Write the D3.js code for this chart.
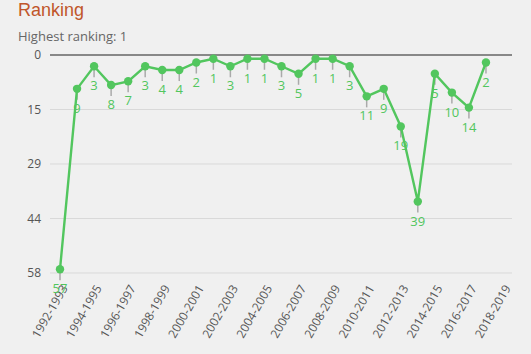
<!DOCTYPE html>
<html>
<head>
<meta charset="utf-8">
<script src="https://cdn.jsdelivr.net/npm/d3@7"></script>
<style>
  body { margin: 0; background: #f0f0f0; }
  svg { display: block; font-family: "Open Sans", "Noto Sans", sans-serif; }
</style>
</head>
<body>
<div id="chart"></div>
<script>
const seasons = [
  "1992-1993", "1993-1994", "1994-1995", "1995-1996", "1996-1997", "1997-1998",
  "1998-1999", "1999-2000", "2000-2001", "2001-2002", "2002-2003", "2003-2004",
  "2004-2005", "2005-2006", "2006-2007", "2007-2008", "2008-2009", "2009-2010",
  "2010-2011", "2011-2012", "2012-2013", "2013-2014", "2014-2015", "2015-2016",
  "2016-2017", "2017-2018", "2018-2019"
]
const rankings = [57, 9, 3, 8, 7, 3, 4, 4, 2, 1, 3, 1, 1, 3, 5, 1, 1, 3, 11, 9, 19, 39, 5, 10, 14, 2]
const yTicks = [0, 14.5, 29, 43.5, 58]
const xTickLabels = seasons.filter((d, i) => i % 2 === 0)

const width = 531, height = 354
const green = "#52c65e"

const svg = d3.select("#chart")
  .append("svg")
  .attr("width", width)
  .attr("height", height)

svg.append("rect").attr("width", width).attr("height", height).attr("fill", "#f0f0f0")

svg.append("text")
  .attr("x", 18).attr("y", 16)
  .attr("fill", "#c0562a")
  .attr("font-size", 18)
  .attr("font-family", "Liberation Sans, Arial, sans-serif")
  .text("Ranking")

svg.append("text")
  .attr("x", 18).attr("y", 41)
  .attr("fill", "#666")
  .attr("font-size", 13)
  .text("Highest ranking: 1")

const x = d3.scalePoint().domain(seasons).range([60, 503])
const y = d3.scaleLinear().domain([0, 58]).range([55, 273])

// grid
svg.append("g")
  .selectAll("line")
  .data(yTicks)
  .join("line")
  .attr("x1", 50).attr("x2", 512)
  .attr("y1", d => y(d)).attr("y2", d => y(d))
  .attr("stroke", d => d === 0 ? "#666" : "#d9d9d9")
  .attr("stroke-width", d => d === 0 ? 1.5 : 1)

// y axis labels
const yAxis = svg.append("g")
  .attr("transform", "translate(44,0)")
  .call(d3.axisLeft(y).tickValues(yTicks).tickFormat(d => Math.round(d)).tickSize(0))
yAxis.select(".domain").remove()
yAxis.selectAll("text").attr("fill", "#555").attr("font-size", 12).attr("font-family", "Open Sans, sans-serif")

// x axis labels
const xAxis = svg.append("g")
  .attr("transform", "translate(0,284)")
  .call(d3.axisBottom(x).tickValues(xTickLabels).tickSize(0))
xAxis.select(".domain").remove()
xAxis.selectAll("text")
  .attr("fill", "#555")
  .attr("font-size", 12)
  .attr("font-family", "Open Sans, sans-serif")
  .attr("text-anchor", "end")
  .attr("dy", "0.35em")
  .attr("transform", "translate(4,2) rotate(-60)")
  .attr("y", 0)

const pts = rankings.map((r, i) => ({ season: seasons[i], r }))

// stems
svg.append("g")
  .selectAll("line")
  .data(pts)
  .join("line")
  .attr("x1", d => x(d.season)).attr("x2", d => x(d.season))
  .attr("y1", d => y(d.r)).attr("y2", d => y(d.r) + 11)
  .attr("stroke", "#aaa")
  .attr("stroke-width", 1.5)

svg.append("path")
  .datum(pts)
  .attr("fill", "none")
  .attr("stroke", green)
  .attr("stroke-width", 2.4)
  .attr("d", d3.line().x(d => x(d.season)).y(d => y(d.r)))

svg.append("g")
  .selectAll("circle")
  .data(pts)
  .join("circle")
  .attr("cx", d => x(d.season))
  .attr("cy", d => y(d.r))
  .attr("r", 4.2)
  .attr("fill", green)

svg.append("g")
  .selectAll("text")
  .data(pts)
  .join("text")
  .attr("x", d => x(d.season))
  .attr("y", d => y(d.r) + 24)
  .attr("text-anchor", "middle")
  .attr("fill", green)
  .attr("font-size", 13)
  .text(d => d.r)
</script>
</body>
</html>
